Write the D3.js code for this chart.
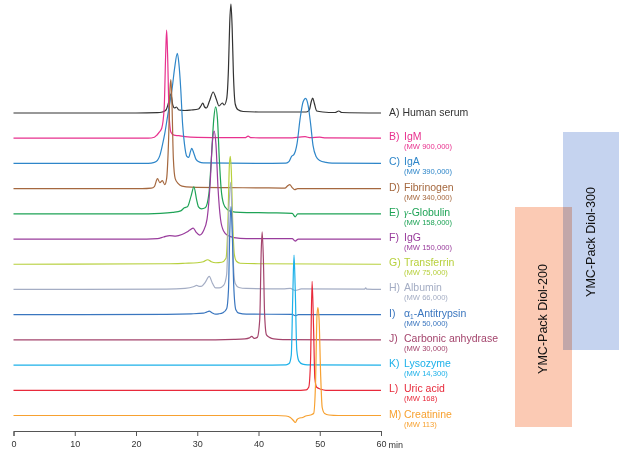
<!DOCTYPE html>
<html><head><meta charset="utf-8">
<script src="https://cdn.jsdelivr.net/npm/d3@7"></script>
<style>
body{margin:0;background:#fff}
svg{display:block;font-family:"Liberation Sans",Arial,Helvetica,sans-serif}
</style>
</head><body>
<svg id="chart" width="636" height="455"></svg>
<script>
// ---------- data ----------
const letters = ["A)","B)","C)","D)","E)","F)","G)","H)","I)","J)","K)","L)","M)"];
const names = ["Human serum","IgM","IgA","Fibrinogen","γ-Globulin","IgG","Transferrin","Albumin","α1-Antitrypsin","Carbonic anhydrase","Lysozyme","Uric acid","Creatinine"];
const mwLabels = ["","(MW 900,000)","(MW 390,000)","(MW 340,000)","(MW 158,000)","(MW 150,000)","(MW 75,000)","(MW 66,000)","(MW 50,000)","(MW 30,000)","(MW 14,300)","(MW 168)","(MW 113)"];
const xTicks = [0,10,20,30,40,50,60];
const columnNames = ["YMC-Pack Diol-200","YMC-Pack Diol-300"];

// [retention time (min), signal]
const traceA = [[0,0],[20,0],[23.5,0.3],[24.3,1],[24.9,3],[25.3,10],[25.7,19],[26.0,8],[26.3,5],[26.6,6],[27.0,3],[28,2.5],[29,3],[30.2,4],[30.6,7],[30.9,10],[31.2,6],[31.5,5],[32.0,12],[32.6,21],[33.1,14],[33.55,7],[34.1,10],[34.4,8],[34.8,14],[35.1,45],[35.3,90],[35.5,109],[35.7,85],[35.9,40],[36.2,9],[36.6,3.5],[37.5,1.5],[40,1],[45,1],[47.8,1],[48.3,3],[48.6,11],[48.85,15],[49.1,10],[49.5,2],[50.5,1],[52.5,0.5],[53.1,2],[53.6,0.5],[60,0]];
const traceB = [[0,0],[22,0],[23.0,1],[23.4,3],[23.8,6],[24.2,10],[24.6,30],[24.85,85],[25.0,108],[25.15,85],[25.4,25],[25.7,6],[26.2,3],[27,2.5],[28,1.5],[30,0.8],[35,0.5],[37.8,0.5],[38.3,2],[38.8,0.5],[45,0.3],[47.6,1.5],[48.5,0.5],[50,1],[51,0.3],[60,0]];
const traceC = [[0,0],[22,0],[23.0,1],[23.5,3],[23.9,8],[24.3,18],[24.7,30],[25.1,45],[25.5,60],[25.9,75],[26.3,95],[26.75,110],[27.0,100],[27.3,75],[27.6,40],[27.9,20],[28.3,7],[28.6,6],[28.9,12],[29.1,15],[29.4,11],[29.8,4],[30.3,1.5],[31,0.5],[40,0],[44.5,0.3],[45.0,2],[45.4,7],[45.8,9],[46.3,20],[46.8,45],[47.3,62],[47.7,65],[48.1,58],[48.5,40],[48.9,18],[49.4,7],[50.0,3],[51,1],[52,0.3],[60,0]];
const traceD = [[0,0],[21,0],[22.5,0.5],[23.0,2],[23.5,10],[23.9,6],[24.3,8],[24.7,4],[25.0,10],[25.3,45],[25.55,100],[25.7,109],[25.85,90],[26.1,30],[26.4,10],[26.9,5],[27.5,2.5],[29,1.5],[35,1],[40,0.8],[44.3,0.5],[44.8,3],[45.1,4],[45.5,1],[45.9,-1],[46.4,0],[60,0]];
const traceE = [[0,0],[20,0],[24,0.5],[26,1.5],[27.3,3],[27.9,6],[28.4,7],[29.0,18],[29.45,27],[29.9,14],[30.2,7],[30.7,5],[31.3,6],[31.9,20],[32.3,55],[32.7,95],[33.0,107],[33.3,95],[33.6,55],[33.9,25],[34.3,10],[34.8,5],[35.5,2.5],[37,1.5],[42,1],[45.5,0.5],[46.0,-3],[46.4,0],[60,0]];
const traceF = [[0,0],[20,0],[23.5,0.5],[24.5,2],[25.5,3.5],[26.5,3],[27.5,4.5],[28.3,7],[28.8,9],[29.35,11],[29.8,7],[30.4,4],[31.0,8],[31.6,20],[32.1,55],[32.45,95],[32.75,108],[33.05,95],[33.4,50],[33.8,20],[34.3,8],[35,3.5],[36,1.5],[38,0.5],[45.5,0.5],[46.0,-2],[46.5,0],[60,0]];
const traceG = [[0,0],[25,0.5],[28,1],[30,1.5],[31.0,2.5],[31.7,4.5],[32.3,2.5],[33.0,1.5],[34.0,2],[34.7,6],[35.0,40],[35.25,100],[35.4,108],[35.55,95],[35.8,40],[36.05,10],[36.4,3],[37,1],[40,0.5],[60,0]];
const traceH = [[0,0],[25,0.3],[28,1],[29.5,3],[29.9,4],[30.4,3],[30.8,3.5],[31.3,7],[31.95,13],[32.5,6],[33.0,1.5],[33.6,1.5],[34.3,4],[34.8,15],[35.1,70],[35.45,107],[35.65,80],[35.9,25],[36.2,6],[36.8,2],[38,1],[44,0.5],[45.2,1],[46.0,-1],[47,0.5],[57.3,0.3],[57.5,1.5],[57.7,0.3],[60,0]];
const traceI = [[0,0],[25,0.3],[29,0.8],[31.0,1.5],[31.5,2.5],[31.95,3.5],[32.4,2],[33.0,0.5],[33.5,0.8],[34.2,2],[34.8,6],[35.1,25],[35.3,80],[35.5,108],[35.7,85],[35.95,30],[36.3,5],[36.8,1.5],[38,0.5],[45.5,0.3],[46,-1],[46.5,0],[60,0]];
const traceJ = [[0,0],[30,0],[36,0.5],[37.8,1],[38.5,2],[38.9,3.5],[39.3,1.5],[39.8,2.5],[40.2,20],[40.45,90],[40.6,108],[40.8,80],[41.0,25],[41.3,5],[41.8,2.5],[42.5,1],[44,0.3],[60,0]];
const traceK = [[0,0],[40,0],[44.5,0.3],[45.0,1.5],[45.35,10],[45.6,70],[45.8,110],[46.0,75],[46.25,15],[46.6,4],[47.2,1],[48,0.3],[60,0]];
const traceL = [[0,0],[46,0],[47.8,0.5],[48.2,3],[48.5,30],[48.75,109],[49.0,60],[49.2,12],[49.5,3],[50.2,1],[51,0],[60,0]];
const traceM = [[0,0],[43,0],[44.5,-0.5],[45.2,-2],[45.7,-5],[46.0,-7],[46.3,-4],[46.7,-2.5],[47.2,-2],[47.7,-0.5],[48.5,0.5],[49.0,2],[49.3,30],[49.55,100],[49.7,108],[49.9,95],[50.15,40],[50.4,8],[50.8,2],[51.5,0.5],[53,0],[60,0]];
const traces = [traceA,traceB,traceC,traceD,traceE,traceF,traceG,traceH,traceI,traceJ,traceK,traceL,traceM];

// ---------- styles ----------
const colors = ["#333333","#e8318e","#2e86c9","#a5683f","#1ea356","#993c9c","#b7d03c","#a4adc4","#3a76bf","#a4456d","#1db1e9","#e82a3b","#f7a130"];

// ---------- drawing ----------
const svg = d3.select("#chart");
const x = d3.scaleLinear().domain([0,60]).range([13.5,381]);
const row = d3.scalePoint().domain(d3.range(traces.length)).range([113,415.5]);
const y = d3.scaleLinear().domain([0,110]).range([0,-110]);

// column boxes
const boxes = svg.append("g");
boxes.append("rect").attr("x",515).attr("y",207).attr("width",57).attr("height",220).attr("fill","#fbcab4");
boxes.append("rect").attr("x",563).attr("y",132).attr("width",56).attr("height",218).attr("fill","#c5d3ef").style("mix-blend-mode","multiply");
boxes.append("text").attr("transform","translate(547,319) rotate(-90)").attr("text-anchor","middle")
  .attr("font-size",12.5).attr("fill","#111").text(columnNames[0]);
boxes.append("text").attr("transform","translate(595,242) rotate(-90)").attr("text-anchor","middle")
  .attr("font-size",12.5).attr("fill","#111").text(columnNames[1]);

// traces
const line = d3.line().x(d=>x(d[0])).y(d=>y(d[1])).curve(d3.curveMonotoneX);
const g = svg.append("g");
traces.forEach((tr,i)=>{
  g.append("path").attr("d",line(tr)).attr("transform",`translate(0,${row(i)})`)
   .attr("fill","none").attr("stroke",colors[i]).attr("stroke-width",1.2).attr("stroke-linejoin","round");
});

// labels
const lab = svg.append("g").attr("font-size",10.5);
traces.forEach((tr,i)=>{
  const by = row(i)+2;
  if(i===0){
    lab.append("text").attr("x",389).attr("y",by+1).attr("fill",colors[i]).text(letters[i]+" "+names[i]);
    return;
  }
  lab.append("text").attr("x",389).attr("y",by).attr("fill",colors[i]).text(letters[i]);
  const t = lab.append("text").attr("x",404).attr("y",by).attr("fill",colors[i]);
  if(names[i].startsWith("α1")){
    t.append("tspan").text("α");
    t.append("tspan").attr("font-size",6.5).attr("dy",2).text("1");
    t.append("tspan").attr("dy",-2).text(names[i].slice(2));
  } else if(names[i].startsWith("γ")){
    t.append("tspan").attr("font-family","'Liberation Serif',serif").attr("font-style","italic").text("γ");
    t.append("tspan").text(names[i].slice(1));
  } else t.text(names[i]);
  lab.append("text").attr("x",404).attr("y",row(i)+11).attr("font-size",7.6).attr("fill",colors[i]).text(mwLabels[i]);
});

// axis
const ax = svg.append("g").attr("transform","translate(0,431)")
  .call(d3.axisBottom(x).tickValues(xTicks).tickSize(5).tickSizeOuter(5).tickPadding(5));
ax.select(".domain").attr("stroke","#555");
ax.selectAll(".tick line").attr("stroke","#555");
ax.selectAll(".tick text").attr("font-size",9).attr("fill","#333").attr("font-family","'Liberation Sans',Arial,sans-serif");
svg.append("text").attr("x",x(60)+7.5).attr("y",447.5).attr("font-size",9).attr("fill","#333").text("min");
</script>
</body></html>
